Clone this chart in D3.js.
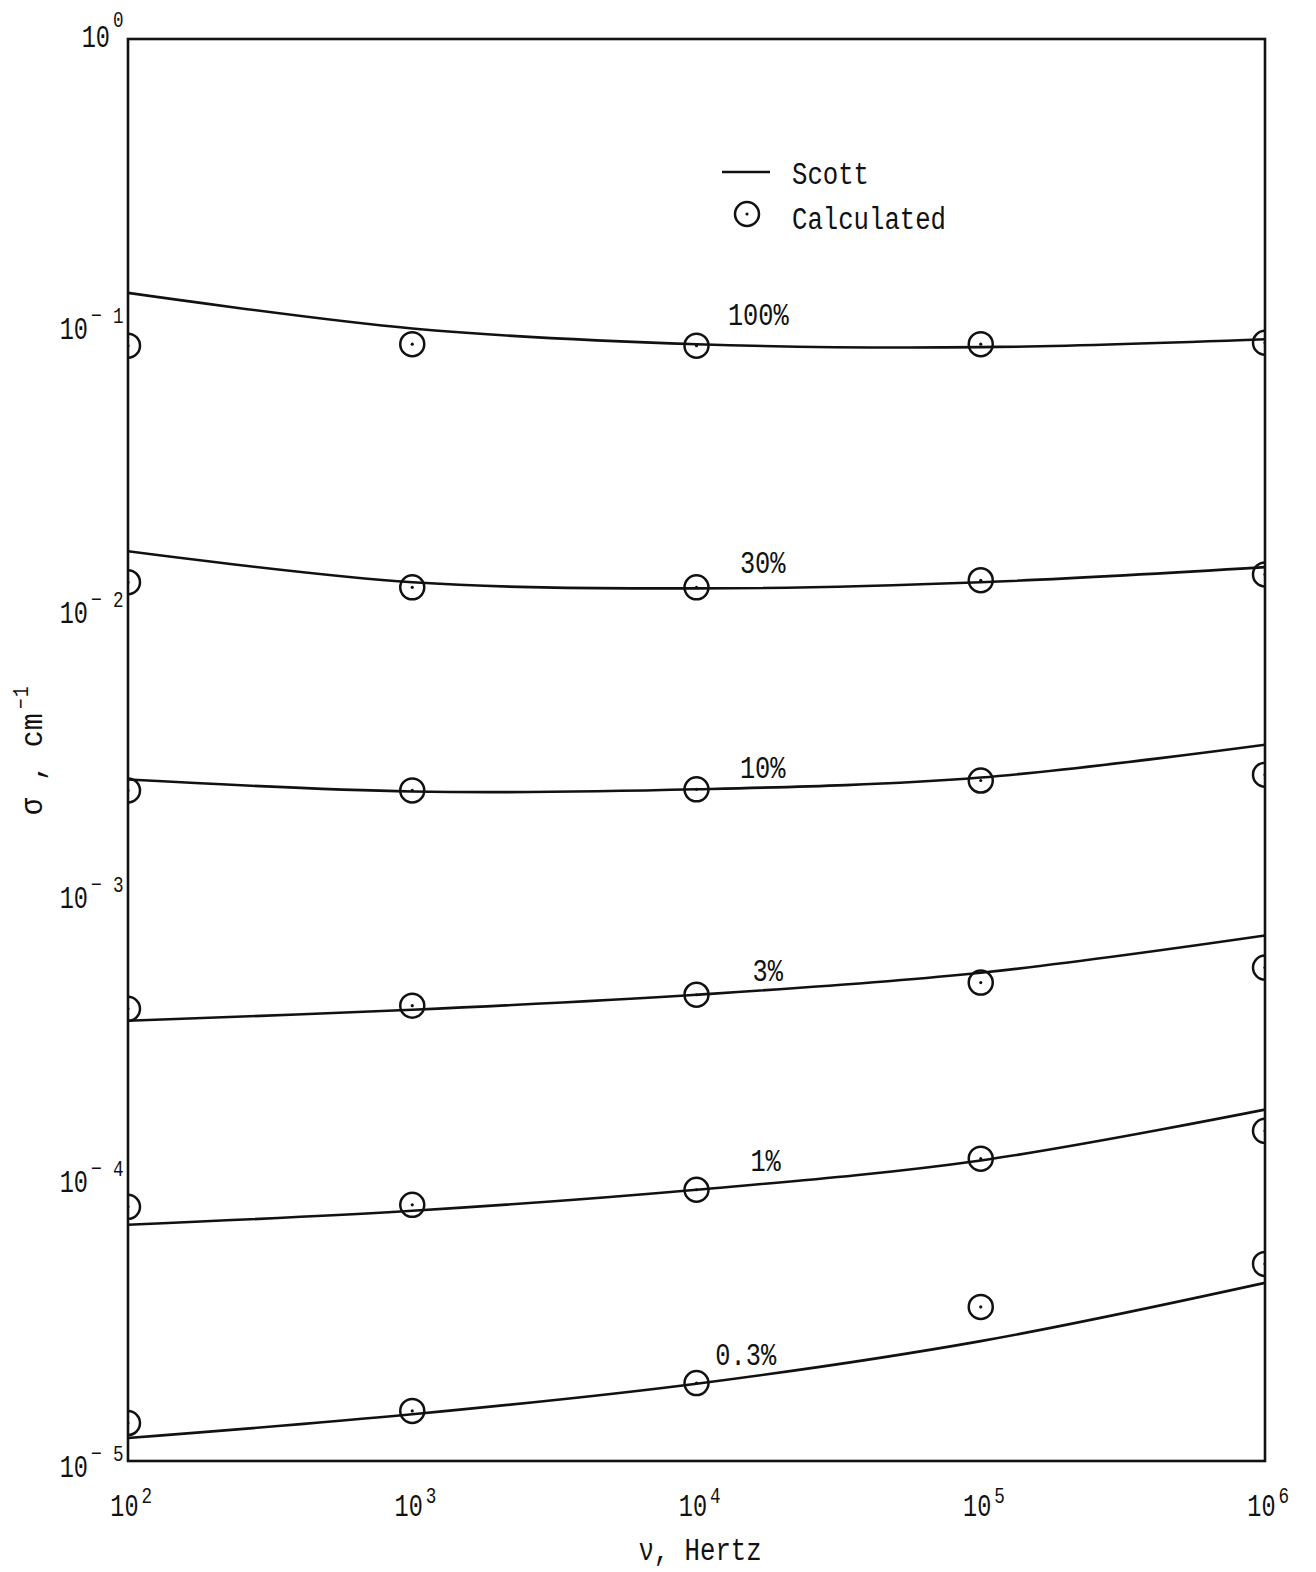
<!DOCTYPE html>
<html>
<head>
<meta charset="utf-8">
<script src="https://cdn.jsdelivr.net/npm/d3@7"></script>
<style>
  body { margin: 0; background: #fff; }
  text { font-family: "Liberation Mono", "DejaVu Sans Mono", monospace; fill: #111; }
</style>
</head>
<body>
<svg width="1316" height="1572"></svg>
<script>
//frequencies, Hz
const freqs = [1e2, 1e3, 1e4, 1e5, 1e6]
//concentration labels for each curve
const curveNames = ["100%", "30%", "10%", "3%", "1%", "0.3%"]
//Scott curve values (cm^-1) at each frequency
const scott100 = [0.128, 0.096, 0.0845, 0.0825, 0.088]
const scott30 = [0.0158, 0.0123, 0.0117, 0.0123, 0.0139]
const scott10 = [0.00249, 0.00226, 0.00230, 0.00253, 0.00330]
const scott3 = [3.53e-4, 3.86e-4, 4.36e-4, 5.21e-4, 7.04e-4]
const scott1 = [6.77e-5, 7.58e-5, 8.99e-5, 1.14e-4, 1.72e-4]
const scott03 = [1.205e-5, 1.46e-5, 1.87e-5, 2.64e-5, 4.23e-5]
//calculated points
const calc100 = [0.0835, 0.0845, 0.0835, 0.0845, 0.0855]
const calc30 = [0.0123, 0.0118, 0.0118, 0.0125, 0.0131]
const calc10 = [0.00228, 0.00228, 0.00230, 0.00247, 0.00259]
const calc3 = [3.89e-4, 3.99e-4, 4.36e-4, 4.81e-4, 5.43e-4]
const calc1 = [7.83e-5, 7.96e-5, 8.99e-5, 1.156e-4, 1.449e-4]
const calc03 = [1.36e-5, 1.50e-5, 1.88e-5, 3.48e-5, 4.93e-5]
//where each curve label sits (frequency, value at baseline)
const labelFreq = [1.65e4, 1.71e4, 1.71e4, 1.78e4, 1.75e4, 1.49e4]
const labelVal = [0.0987, 0.01326, 0.00252, 4.87e-4, 1.046e-4, 2.18e-5]
//tick exponents
const xExps = [2, 3, 4, 5, 6]
const yExps = [0, -1, -2, -3, -4, -5]

const scottSeries = [scott100, scott30, scott10, scott3, scott1, scott03]
const calcSeries = [calc100, calc30, calc10, calc3, calc1, calc03]

const svg = d3.select("svg")
const mLeft = 128, mTop = 39, mRight = 1265, mBottom = 1461
//typewriter look: tall narrow glyphs
const charW = 15.4

const x = d3.scaleLog().domain([1e2, 1e6]).range([mLeft, mRight])
const y = d3.scaleLog().domain([1e-5, 1]).range([mBottom, mTop])

//squeeze text to the typewriter pitch
const typed = (sel, n) => sel.attr("textLength", n * charW).attr("lengthAdjust", "spacingAndGlyphs")
//narrow text drawn with a horizontal squeeze
const narrow = (parent, tx, ty, str, size, anchor, sx) =>
  parent.append("text")
    .attr("transform", "translate(" + tx + "," + ty + ") scale(" + sx + ",1)")
    .attr("text-anchor", anchor).attr("font-size", size).text(str)

svg.append("defs").append("clipPath").attr("id", "plot")
  .append("rect").attr("x", mLeft).attr("y", mTop)
  .attr("width", mRight - mLeft).attr("height", mBottom - mTop)

const plot = svg.append("g").attr("clip-path", "url(#plot)")

const line = d3.line()
  .x((d, i) => x(freqs[i]))
  .y(d => y(d))
  .curve(d3.curveCatmullRom.alpha(0.5))

//Scott curves
plot.selectAll(".scott").data(scottSeries).enter().append("path")
  .attr("class", "scott")
  .attr("d", line)
  .attr("fill", "none").attr("stroke", "#111").attr("stroke-width", 2.6)

//calculated circles
calcSeries.forEach(vals => {
  const g = plot.selectAll(null).data(vals).enter().append("g")
    .attr("transform", (d, i) => "translate(" + x(freqs[i]) + "," + y(d) + ")")
  g.append("circle").attr("r", 12).attr("fill", "none")
    .attr("stroke", "#111").attr("stroke-width", 2.5)
  g.append("circle").attr("r", 1.6).attr("fill", "#111")
})

//curve labels
svg.selectAll(".clabel").data(curveNames).enter().append("text")
  .attr("class", "clabel")
  .attr("x", (d, i) => x(labelFreq[i]))
  .attr("y", (d, i) => y(labelVal[i]))
  .attr("text-anchor", "middle")
  .attr("font-size", 31)
  .attr("textLength", d => d.length * 15.2).attr("lengthAdjust", "spacingAndGlyphs")
  .text(d => d)

//frame
svg.append("rect").attr("x", mLeft).attr("y", mTop)
  .attr("width", mRight - mLeft).attr("height", mBottom - mTop)
  .attr("fill", "none").attr("stroke", "#111").attr("stroke-width", 2.6)

//y axis labels
const yAxis = svg.append("g").attr("transform", "translate(" + mLeft + ",0)")
  .call(d3.axisLeft(y).tickValues(yExps.map(e => Math.pow(10, e))).tickSize(0).tickFormat(""))
yAxis.select(".domain").remove()
yAxis.selectAll(".tick").each(function(d, i) {
  const e = yExps[i]
  const g = d3.select(this)
  if (e === 0) {
    narrow(g, -18, 7, "10", 31, "end", 0.76)
    narrow(g, -15, -13, "0", 22, "start", 0.8)
  } else {
    narrow(g, -40, 15, "10", 31, "end", 0.76)
    narrow(g, -37, -1, "\u2212", 23, "start", 0.8)
    narrow(g, -15, -1, String(-e), 22, "start", 0.8)
  }
})

//x axis labels
const xAxis = svg.append("g").attr("transform", "translate(0," + mBottom + ")")
  .call(d3.axisBottom(x).tickValues(xExps.map(e => Math.pow(10, e))).tickSize(0).tickFormat(""))
xAxis.select(".domain").remove()
xAxis.selectAll(".tick").each(function(d, i) {
  const g = d3.select(this)
  narrow(g, -4, 55, "10", 31, "middle", 0.76)
  narrow(g, 13, 42, String(xExps[i]), 22, "start", 0.8)
})

//axis titles
typed(svg.append("text").attr("x", 700).attr("y", 1560).attr("text-anchor", "middle")
  .attr("font-size", 31), 8).text("\u03bd, Hertz")

const yt = svg.append("g").attr("transform", "translate(42,815) rotate(-90)")
typed(yt.append("text").attr("x", 0).attr("y", 0).attr("font-size", 31), 6.6).text("\u03c3 , cm")
narrow(yt, 106, -14, "\u2212", 22, "start", 0.8)
narrow(yt, 118, -14, "1", 22, "start", 0.8)

//legend
const legend = svg.append("g")
legend.append("line").attr("x1", 722).attr("x2", 770).attr("y1", 172).attr("y2", 172)
  .attr("stroke", "#111").attr("stroke-width", 2.5)
typed(legend.append("text").attr("x", 792).attr("y", 184).attr("font-size", 31), 5).text("Scott")
legend.append("circle").attr("cx", 747).attr("cy", 214).attr("r", 12)
  .attr("fill", "none").attr("stroke", "#111").attr("stroke-width", 2.5)
legend.append("circle").attr("cx", 747).attr("cy", 214).attr("r", 1.6).attr("fill", "#111")
typed(legend.append("text").attr("x", 792).attr("y", 229).attr("font-size", 31), 10).text("Calculated")
</script>
</body>
</html>
